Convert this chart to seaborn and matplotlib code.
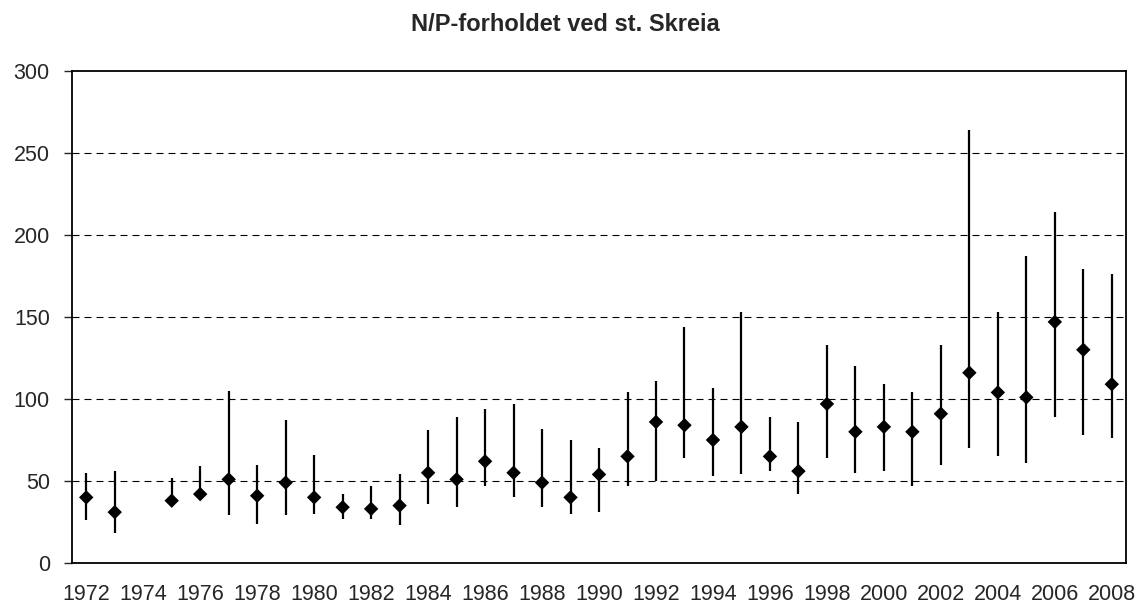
import matplotlib.pyplot as plt
import numpy as np
import pandas as pd
import seaborn as sns

# N/P ratio per year at st. Skreia: mean (diamond) with min-max range (line)
years = list(range(1972, 2009))
mean_np = [40, 31, np.nan, 38, 42, 51, 41, 49, 40, 34, 33,
           35, 55, 51, 62, 55, 49, 40, 54, 65, 86, 84, 75, 83, 65,
           56, 97, 80, 83, 80, 91, 116, 104, 101, 147, 130, 109]
min_np = [26, 18, np.nan, 36, 40, 29, 24, 29, 30, 27, 27,
          23, 36, 34, 47, 40, 34, 30, 31, 47, 50, 64, 53, 54, 56,
          42, 64, 55, 56, 47, 60, 70, 65, 61, 89, 78, 76]
max_np = [55, 56, np.nan, 52, 59, 105, 60, 87, 66, 42, 47,
          54, 81, 89, 94, 97, 82, 75, 70, 104, 111, 144, 107, 153, 89,
          86, 133, 120, 109, 104, 133, 264, 153, 187, 214, 179, 176]
y_ticks = [0, 50, 100, 150, 200, 250, 300]
x_labels = list(range(1972, 2009, 2))

df = pd.DataFrame({'year': years, 'mean': mean_np, 'min': min_np, 'max': max_np})

sns.set_style("white")
plt.rcParams['font.family'] = ['Liberation Sans', 'DejaVu Sans']

fig = plt.figure(figsize=(11.41, 6.06), dpi=100)
ax = fig.add_axes([0.0631, 0.0710, 0.9238, 0.8118])

# dashed horizontal gridlines
for yv in y_ticks[1:-1]:
    ax.axhline(yv, color='black', lw=0.8, ls=(0, (6.3, 4.5)), zorder=0)

ax.vlines(df['year'], df['min'], df['max'], color='black', lw=1.6, zorder=2)
sns.scatterplot(data=df, x='year', y='mean', marker='D', s=54, color='black',
                edgecolor='none', ax=ax, zorder=3)

ax.set_xlim(1971.5, 2008.5)
ax.set_ylim(0, 300)
ax.set_yticks(y_ticks)
ax.set_xticks(x_labels)
ax.set_xticks(np.arange(1971.5, 2009, 1), minor=True)
ax.tick_params(axis='x', which='major', length=0, pad=15, labelsize=15.5)
ax.tick_params(axis='x', which='minor', direction='inout', length=8, width=1, color='#444444')
ax.tick_params(axis='y', which='major', direction='out', length=6, width=1, pad=10,
               labelsize=15.5, left=True)
ax.set_xlabel('')
ax.set_ylabel('')

for side in ['left', 'right', 'top', 'bottom']:
    ax.spines[side].set_visible(True)
    ax.spines[side].set_color('black')
    ax.spines[side].set_linewidth(1.3)

fig.text(0.4956, 0.9488, 'N/P-forholdet ved st. Skreia', ha='center', va='baseline',
         fontsize=17, fontweight='bold')

plt.savefig('out.png', dpi=100)
